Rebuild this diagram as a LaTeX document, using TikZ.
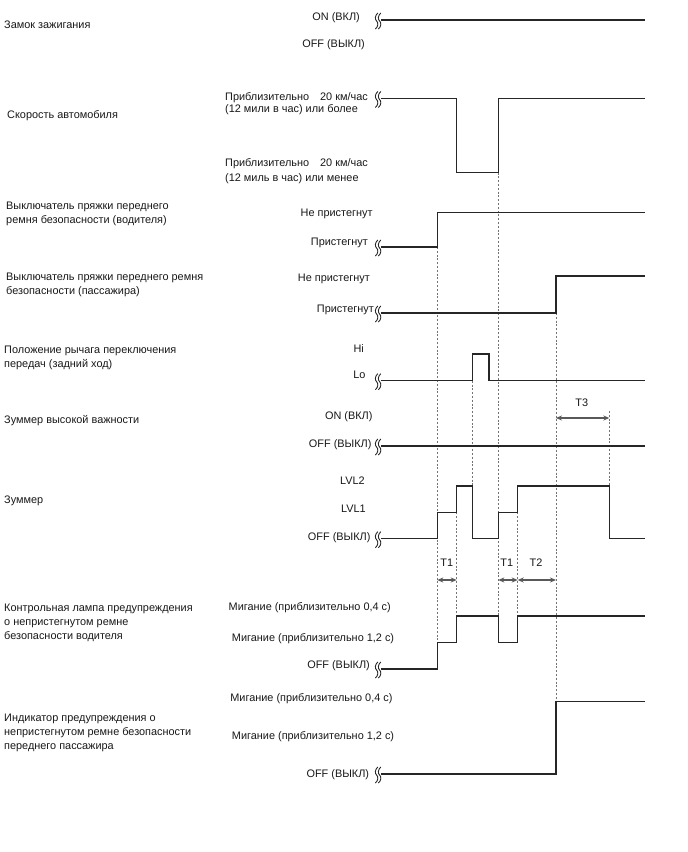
\documentclass[tikz,border=0pt]{standalone}
\usepackage{fontspec}
\setmainfont{Liberation Sans}
\usetikzlibrary{arrows.meta}
\tikzset{
  sig/.style={line width=1.3pt, draw=black!85, line join=miter},
  guide/.style={draw=black!55, line width=0.7pt, dash pattern=on 2pt off 1.8pt},
  tarrow/.style={draw=black!65, line width=1.2pt, {Stealth[length=6pt,width=5pt]}-{Stealth[length=6pt,width=5pt]}},
  lbl/.style={inner sep=0pt, text height=7.8pt, text depth=0pt, font=\fontsize{10.9}{13}\selectfont, text=black!90},
  lft/.style={lbl, anchor=west},
  rgt/.style={lbl, anchor=east},
  ctr/.style={lbl, anchor=center},
  brk/.pic={
    \draw[line width=0.9pt, black!85] (1.8,-8) .. controls (-1.2,-5.5) and (-1.2,-1.5) .. (0.6,0) .. controls (2.4,1.5) and (2.4,5.5) .. (-0.6,8);
    \draw[line width=0.9pt, black!85] (4.8,-8) .. controls (1.8,-5.5) and (1.8,-1.5) .. (3.6,0) .. controls (5.4,1.5) and (5.4,5.5) .. (2.4,8);
  }
}
\begin{document}
\begin{tikzpicture}[x=1pt,y=-1pt]
\useasboundingbox[fill=white] (0,0) rectangle (688,852);
% time marks
\def\xs{381}\def\xe{645}
\def\ta{437.3}\def\tb{456.7}\def\tc{472.7}\def\td{489}\def\te{498.3}\def\tf{517.7}\def\tg{556}\def\th{609.3}
% guides
\draw[guide] (\ta,247) -- (\ta,669);
\draw[guide] (\tb,512.3) -- (\tb,616);
\draw[guide] (\tc,380.7) -- (\tc,486);
\draw[guide] (\te,172.5) -- (\te,616);
\draw[guide] (\tf,512.3) -- (\tf,616);
\draw[guide] (\tg,313) -- (\tg,701.7);
\draw[guide] (\th,411) -- (\th,486);
% time arrows
\coordinate (a1) at (\ta,580); \coordinate (b1) at (\tb,580);
\coordinate (e1) at (\te,580); \coordinate (f1) at (\tf,580);
\coordinate (g1) at (\tg,580);
\coordinate (g2) at (\tg,418); \coordinate (h2) at (\th,418);
\draw[tarrow] (a1) -- (b1);
\draw[tarrow] (e1) -- (f1);
\draw[tarrow] (f1) -- (g1);
\draw[tarrow] (g2) -- (h2);
\node[ctr] (T1a) at (446.7,563) {T1};
\node[ctr] (T1b) at (506.7,563) {T1};
\node[ctr] (T2) at (536,563) {T2};
\node[ctr] (T3) at (581.7,403) {T3};
% signals
\draw[sig] (\xs,20) -- (\xe,20);
\draw[sig] (\xs,98.5) -- (\tb,98.5) -- (\tb,172.5) -- (\te,172.5) -- (\te,98.5) -- (\xe,98.5);
\draw[sig] (\xs,247) -- (\ta,247) -- (\ta,212.5) -- (\xe,212.5);
\draw[sig] (\xs,313) -- (\tg,313) -- (\tg,276) -- (\xe,276);
\draw[sig] (\xs,380.7) -- (\tc,380.7) -- (\tc,354) -- (\td,354) -- (\td,380.7) -- (\xe,380.7);
\draw[sig] (\xs,446) -- (\xe,446);
\draw[sig] (\xs,538.7) -- (\ta,538.7) -- (\ta,512.3) -- (\tb,512.3) -- (\tb,486) -- (\tc,486) -- (\tc,538.7) -- (\te,538.7) -- (\te,512.3) -- (\tf,512.3) -- (\tf,486) -- (\th,486) -- (\th,538.7) -- (\xe,538.7);
\draw[sig] (\xs,669) -- (\ta,669) -- (\ta,642.3) -- (\tb,642.3) -- (\tb,616) -- (\te,616) -- (\te,642.3) -- (\tf,642.3) -- (\tf,616) -- (\xe,616);
\draw[sig] (\xs,774) -- (\tg,774) -- (\tg,701.7) -- (\xe,701.7);
% break marks
\foreach \yy in {20,98.5,247,313,380.7,446,538.7,669,774}
  \pic at (376,\yy+1) {brk};
% left labels
\node[lft] (n1) at (4,25) {Замок зажигания};
\node[lft] (n2) at (7,115) {Скорость автомобиля};
\node[lft] (n3a) at (6,206) {Выключатель пряжки переднего};
\node[lft] (n3b) at (6,219.5) {ремня безопасности (водителя)};
\node[lft] (n4a) at (6,277) {Выключатель пряжки переднего ремня};
\node[lft] (n4b) at (6,291) {безопасности (пассажира)};
\node[lft] (n5a) at (4,350) {Положение рычага переключения};
\node[lft] (n5b) at (4,363.5) {передач (задний ход)};
\node[lft] (n6) at (4,420) {Зуммер высокой важности};
\node[lft] (n7) at (4,500) {Зуммер};
\node[lft] (n8a) at (4,608) {Контрольная лампа предупреждения};
\node[lft] (n8b) at (4,622) {о непристегнутом ремне};
\node[lft] (n8c) at (4,636) {безопасности водителя};
\node[lft] (n9a) at (4,718) {Индикатор предупреждения о};
\node[lft] (n9b) at (4,732) {непристегнутом ремне безопасности};
\node[lft] (n9c) at (4,746) {переднего пассажира};
% level labels
\node[rgt] (l1a) at (360,17) {ON (ВКЛ)};
\node[rgt] (l1b) at (365,44) {OFF (ВЫКЛ)};
\node[lft] (l2a) at (225,97) {Приблизительно\hspace{11pt}20 км/час};
\node[lft] (l2b) at (225,109) {(12 мили в час) или более};
\node[lft] (l2c) at (225,163) {Приблизительно\hspace{11pt}20 км/час};
\node[lft] (l2d) at (225,177.3) {(12 миль в час) или менее};
\node[rgt] (l3a) at (372.7,212.7) {Не пристегнут};
\node[rgt] (l3b) at (368,241.7) {Пристегнут};
\node[rgt] (l4a) at (370,277.7) {Не пристегнут};
\node[rgt] (l4b) at (374,309) {Пристегнут};
\node[rgt] (l5a) at (364,348.3) {Hi};
\node[rgt] (l5b) at (365.7,375) {Lo};
\node[rgt] (l6a) at (372.7,416) {ON (ВКЛ)};
\node[rgt] (l6b) at (371.7,443.3) {OFF (ВЫКЛ)};
\node[rgt] (l7a) at (365,480.7) {LVL2};
\node[rgt] (l7b) at (366,508.3) {LVL1};
\node[rgt] (l7c) at (370.7,536.7) {OFF (ВЫКЛ)};
\node[rgt] (l8a) at (391,606.7) {Мигание (приблизительно 0,4 с)};
\node[rgt] (l8b) at (394.3,637.7) {Мигание (приблизительно 1,2 с)};
\node[rgt] (l8c) at (370,665) {OFF (ВЫКЛ)};
\node[rgt] (l9a) at (392.7,697.7) {Мигание (приблизительно 0,4 с)};
\node[rgt] (l9b) at (394.3,735.7) {Мигание (приблизительно 1,2 с)};
\node[rgt] (l9c) at (369.3,773.3) {OFF (ВЫКЛ)};
\end{tikzpicture}
\end{document}
